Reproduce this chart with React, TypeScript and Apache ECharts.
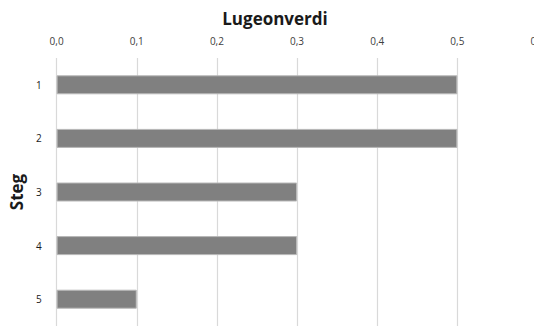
import React, { useEffect, useRef } from "react";
import * as echarts from "echarts";

const steps = ["1", "2", "3", "4", "5"];
const lugeonValues = [0.5, 0.5, 0.3, 0.3, 0.1];
const axisMin = 0;
const axisMax = 0.6;
const axisStep = 0.1;

const FONT = "'Open Sans', Lato, sans-serif";

export default function App() {
  const ref = useRef<HTMLDivElement>(null);

  useEffect(() => {
    if (!ref.current) return;
    const chart = echarts.init(ref.current, undefined, { renderer: "svg" });
    chart.setOption({
      animation: false,
      backgroundColor: "#ffffff",
      textStyle: { fontFamily: FONT },
      title: {
        text: "Lugeonverdi",
        left: 270,
        textAlign: "center",
        top: 5,
        textStyle: { fontFamily: FONT, fontSize: 17, fontWeight: "bold", color: "#1a1a1a" },
      },
      grid: { left: 54.5, top: 58, width: 483, height: 268 },
      xAxis: {
        type: "value",
        position: "top",
        min: axisMin,
        max: axisMax,
        interval: axisStep,
        axisLine: { show: false },
        axisTick: { show: false },
        axisLabel: {
          margin: 12,
          fontSize: 10,
          color: "#404040",
          fontFamily: FONT,
          formatter: (v: number) => v.toFixed(1).replace(".", ","),
        },
        splitLine: { lineStyle: { color: "#d9d9d9", width: 1.2 } },
      },
      yAxis: {
        type: "category",
        data: steps,
        inverse: true,
        name: "Steg",
        nameLocation: "middle",
        nameGap: 30,
        nameRotate: 90,
        nameTextStyle: { fontFamily: FONT, fontSize: 17, fontWeight: "bold", color: "#1a1a1a" },
        axisLine: { show: false },
        axisTick: { show: false },
        axisLabel: { margin: 15, fontSize: 10, color: "#1a1a1a", fontFamily: FONT },
      },
      series: [
        {
          type: "bar",
          data: lugeonValues,
          barWidth: 19,
          itemStyle: { color: "#808080", borderColor: "#b8b8b8", borderWidth: 1 },
        },
      ],
    });
    return () => chart.dispose();
  }, []);

  return (
    <div
      style={{
        position: "fixed",
        left: 0,
        top: 0,
        width: 534,
        height: 327,
        overflow: "hidden",
        background: "#ffffff",
      }}
    >
      <div ref={ref} style={{ width: 570, height: 340 }} />
    </div>
  );
}
